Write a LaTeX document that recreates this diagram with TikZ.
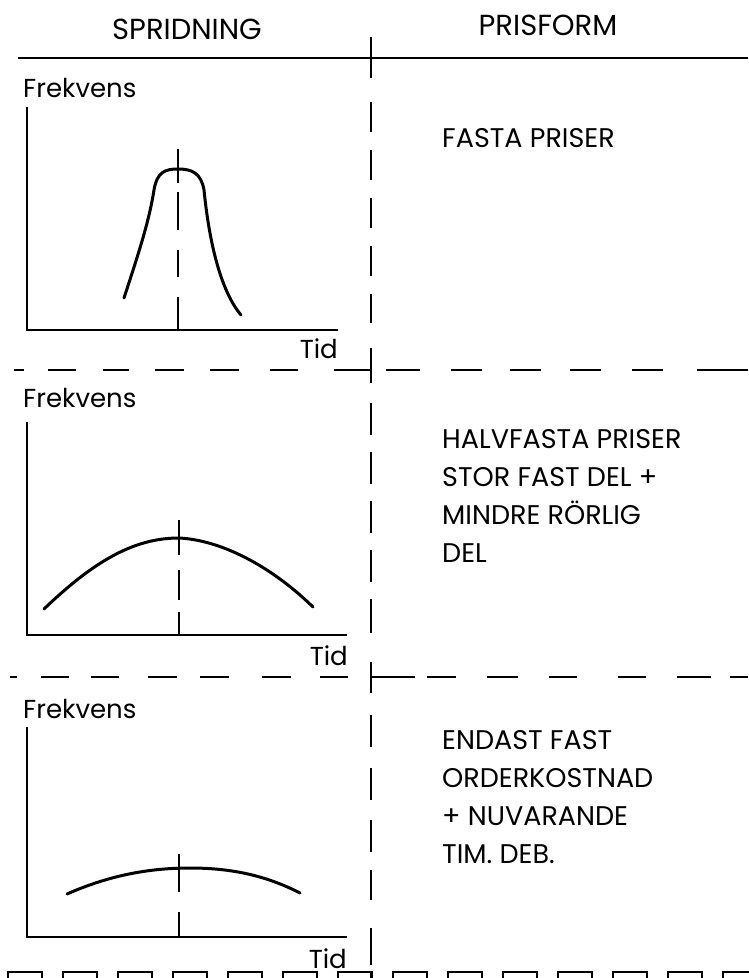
\documentclass[tikz,border=0pt]{standalone}
\usepackage{fontspec}
\setmainfont{Poppins}
\tikzset{
  axisline/.style={line width=2pt},
  curveline/.style={line width=3pt, line cap=round},
  ruleline/.style={line width=2.3pt},
  lbl/.style={font=\fontsize{26}{30}\selectfont, inner sep=0pt},
  hdr/.style={font=\fontsize{29}{32}\selectfont, inner sep=0pt, anchor=base},
  rtxt/.style={font=\fontsize{27}{30}\selectfont, inner sep=0pt, anchor=base west},
}
\begin{document}
\begin{tikzpicture}[x=1pt,y=-1pt]
\useasboundingbox (0,0) rectangle (748,978);
% headers
\node[hdr] (h1) at (187,39) {SPRIDNING};
\node[hdr] (h2) at (548,35) {PRISFORM};
\draw[ruleline] (18,58) -- (748,58);
% vertical divider
\foreach \a/\b in {37/78,102/132,150/180,198/228,246/276,294/323,348/383,403/435,452/484,501/533,550/582,599/633,662/693,715/747,768/800,820/852,870/900,928/965,972/980}
  \draw[ruleline] (371,\a) -- (371,\b);
% dashed separators
\foreach \a/\b in {14/24,48/76,103/129,155/184,210/239,270/298,334/371,386/420,451/482,510/541,570/601,632/663,697/748}
  \draw[ruleline] (\a,370) -- (\b,370);
\foreach \a/\b in {10/17,41/69,91/119,148/177,200/229,262/291,320/348,371/415,427/456,487/518,549/577,618/646,677/711,730/748}
  \draw[ruleline] (\a,677) -- (\b,677);
% bottom (cut) dashes
\foreach \a in {0,55,110,165,220,275,330,385,440,495,550,605,660,715}
  \draw[line width=1.8pt] (\a+8,982) rectangle (\a+42,972);
% chart 1
\node[lbl, anchor=base west] (f1) at (23,97) {Frekvens};
\draw[axisline] (27,107) -- (27,330) -- (338,330);
\node[lbl, anchor=base east] (t1) at (338,358) {Tid};
\foreach \a/\b in {149/183,192/230,250/277,297/330}
  \draw[axisline] (178,\a) -- (178,\b);
\draw[curveline] (124,298) .. controls (138,255) and (149,222) .. (154,190)
  .. controls (157,172) and (165,169) .. (178,169)
  .. controls (192,169) and (201,173) .. (204,190)
  .. controls (209,240) and (220,290) .. (241,315);
\node[rtxt] (r1) at (442,147) {FASTA PRISER};
% chart 2
\node[lbl, anchor=base west] (f2) at (23,407) {Frekvens};
\draw[axisline] (27,422) -- (27,635) -- (347,635);
\node[lbl, anchor=base east] (t2) at (348,665) {Tid};
\foreach \a/\b in {520/555,570/600,612/635}
  \draw[axisline] (179,\a) -- (179,\b);
\draw[curveline] (44,609) .. controls (95,560) and (135,538) .. (179,538)
  .. controls (220,540) and (270,565) .. (313,607);
\node[rtxt] (r2a) at (442,448) {HALVFASTA PRISER};
\node[rtxt] (r2b) at (442,486) {STOR FAST DEL +};
\node[rtxt] (r2c) at (442,524) {MINDRE RÖRLIG};
\node[rtxt] (r2d) at (442,562) {DEL};
% chart 3
\node[lbl, anchor=base west] (f3) at (23,718) {Frekvens};
\draw[axisline] (27,727) -- (27,937) -- (347,937);
\node[lbl, anchor=base east] (t3) at (347,968) {Tid};
\foreach \a/\b in {854/892,912/937}
  \draw[axisline] (179,\a) -- (179,\b);
\draw[curveline] (67,894) .. controls (110,875) and (150,868) .. (190,868)
  .. controls (230,868) and (265,875) .. (300,893);
\node[rtxt] (r3a) at (442,749) {ENDAST FAST};
\node[rtxt] (r3b) at (442,787) {ORDERKOSTNAD};
\node[rtxt] (r3c) at (442,825) {+ NUVARANDE};
\node[rtxt] (r3d) at (442,863) {TIM. DEB.};
\end{tikzpicture}
\end{document}
